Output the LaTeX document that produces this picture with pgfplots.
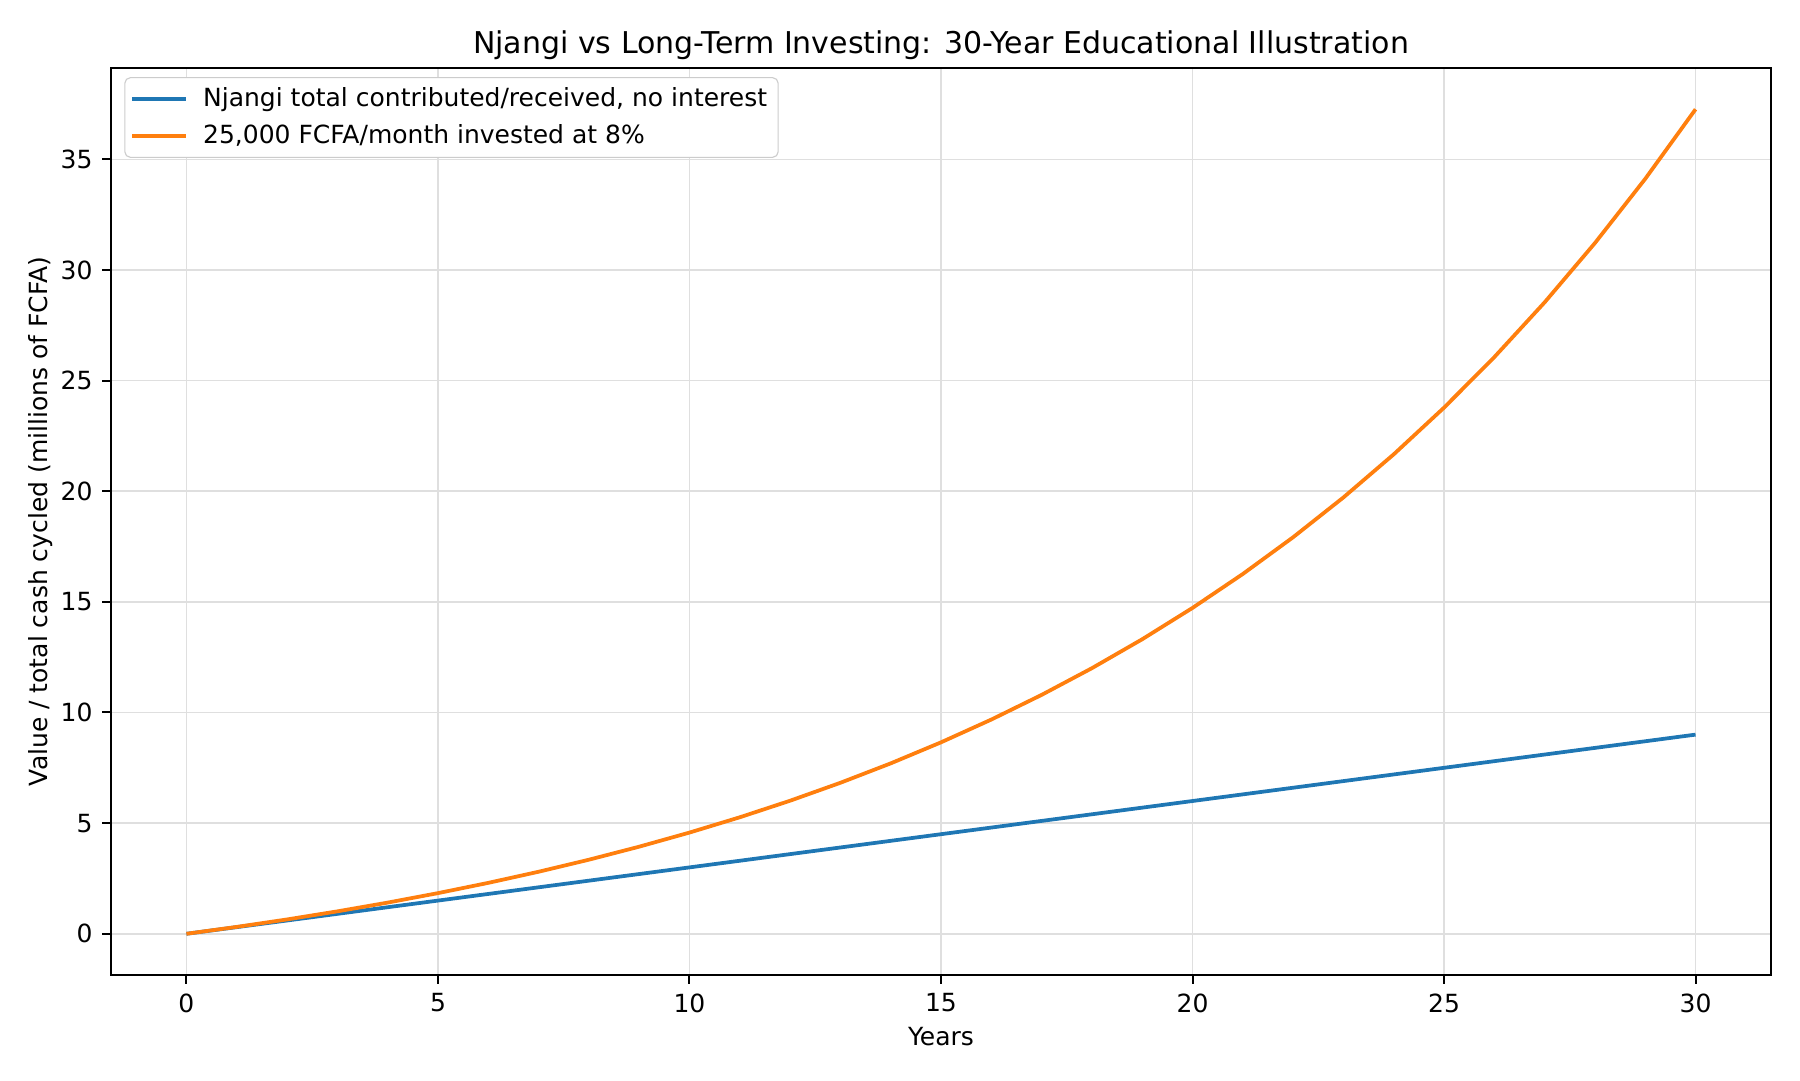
\documentclass[border=0pt]{standalone}
\usepackage{pgfplots}
\pgfplotsset{compat=1.18}
\usepackage{fontspec}
\setmainfont{DejaVu Sans}
\definecolor{tabblue}{HTML}{1F77B4}
\definecolor{taborange}{HTML}{FF7F0E}
\begin{document}
\begin{tikzpicture}
\path[use as bounding box] (-39.96pt,-37.8pt) rectangle (608.04pt,351pt);
\begin{axis}[
  at={(0,0)}, anchor=south west,
  scale only axis, width=597.6pt, height=326.5pt,
  xmin=-1.5, xmax=31.5, ymin=-1.863, ymax=39.122,
  xtick={0,5,...,30}, ytick={0,5,...,35},
  tick align=outside, tick pos=left,
  major tick length=3.15pt,
  tick style={black, line width=0.72pt},
  axis line style={line width=0.72pt},
  grid=major, major grid style={gray!25, line width=0.55pt},
  tick label style={font=\fontsize{9}{11}\selectfont},
  /pgf/number format/assume math mode=true,
  xlabel={Years}, ylabel={Value / total cash cycled (millions of FCFA)},
  label style={font=\fontsize{9}{11}\selectfont},
  xlabel style={yshift=1.5pt},
  ylabel style={yshift=-4pt},
  title={Njangi vs Long-Term Investing: 30-Year Educational Illustration},
  title style={font=\fontsize{10.8}{13}\selectfont, yshift=-6.5pt},
  legend cell align=left,
  legend style={font=\fontsize{9}{11}\selectfont, draw=gray!40, rounded corners=2pt, at={(0.008,0.99)}, anchor=north west, inner xsep=2pt, inner ysep=1.5pt, row sep=1pt, column sep=3.5pt},
  legend image code/.code={\draw[#1, line width=1.35pt] (0cm,0cm) -- (0.68cm,0cm);},
]
\addplot[tabblue, line width=1.35pt] coordinates {(0,0) (30,9)};
\addlegendentry{Njangi total contributed/received, no interest}
\addplot[taborange, line width=1.35pt] coordinates {
(0,0) (1,0.31125) (2,0.64833) (3,1.01339) (4,1.40875) (5,1.83692)
(6,2.30063) (7,2.80283) (8,3.34671) (9,3.93574) (10,4.57365)
(11,5.26451) (12,6.01271) (13,6.82301) (14,7.70056) (15,8.65096)
(16,9.68024) (17,10.79494) (18,12.00217) (19,13.30959) (20,14.72553)
(21,16.25900) (22,17.91974) (23,19.71832) (24,21.66619) (25,23.77573)
(26,26.06035) (27,28.53460) (28,31.21420) (29,34.11622) (30,37.25912)};
\addlegendentry{25,000 FCFA/month invested at 8\%}
\end{axis}
\end{tikzpicture}
\end{document}
